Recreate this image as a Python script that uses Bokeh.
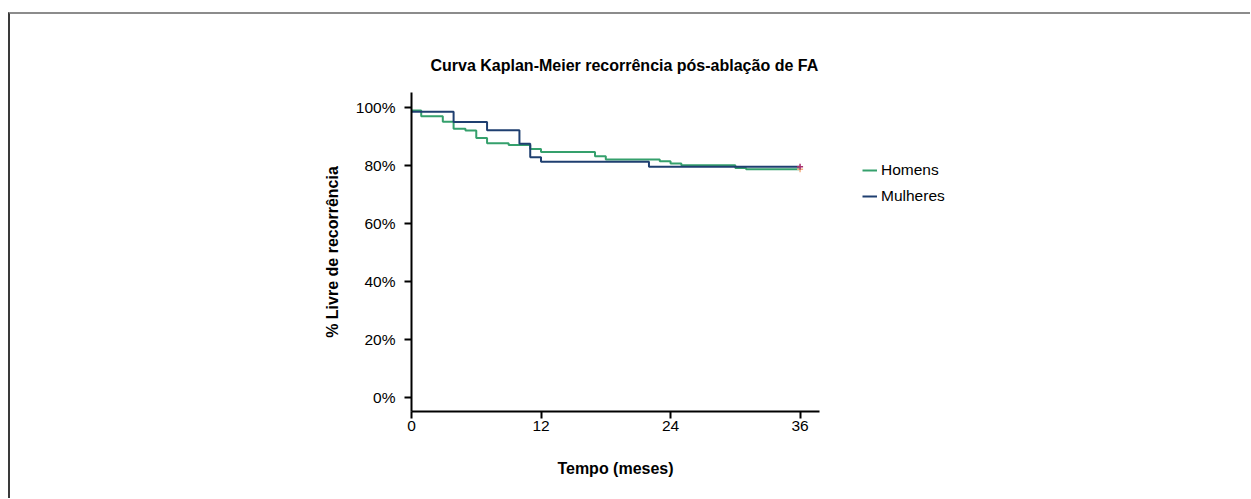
from bokeh.plotting import figure
from bokeh.layouts import row
from bokeh.models import Range1d, Legend, LegendItem, FixedTicker, PrintfTickFormatter
from bokeh.embed import file_html
from bokeh.resources import INLINE

# ---- data ----
title_text = "Curva Kaplan-Meier recorrência pós-ablação de FA"
x_label = "Tempo (meses)"
y_label = "% Livre de recorrência"
x_ticks = [0, 12, 24, 36]
y_ticks = [0, 20, 40, 60, 80, 100]
series_names = ["Homens", "Mulheres"]

homens_t = [0, 0.9, 2.9, 3.9, 5.0, 6.0, 7.0, 9.0, 11.0, 12.0, 17.0, 18.0, 23.0, 24.0, 25.0, 30.0, 31.0, 36.0]
homens_s = [99.0, 97.0, 95.1, 92.7, 92.1, 89.5, 87.7, 87.1, 85.7, 84.7, 83.2, 82.1, 81.5, 80.7, 80.1, 79.2, 78.7, 78.7]

mulheres_t = [0, 3.9, 7.0, 10.0, 11.0, 12.0, 22.0, 36.0]
mulheres_s = [98.6, 95.0, 92.2, 87.5, 82.9, 81.3, 79.6, 79.6]

censor_t = [36, 36]
censor_s = [78.7, 79.6]

# ---- layout / style ----
X_MAX = 37.8
Y_MIN, Y_MAX = -4.8, 105.2
MAIN_W, LEG_W, CANVAS_H = 840, 400, 484
LEFT, TOP, FRAME_W, FRAME_H = 401, 78, 408, 319

GREEN = "#35a06c"
BLUE = "#1f3f70"
FONT = "Liberation Sans"

p = figure(width=MAIN_W, height=CANVAS_H,
           x_range=Range1d(0, X_MAX), y_range=Range1d(Y_MIN, Y_MAX),
           output_backend="svg", toolbar_location=None,
           min_border_left=LEFT, min_border_right=MAIN_W - LEFT - FRAME_W,
           min_border_top=TOP, min_border_bottom=CANVAS_H - TOP - FRAME_H)
p.outline_line_color = None
p.xgrid.visible = False
p.ygrid.visible = False

p.title.text = title_text
p.title.text_font = FONT
p.title.text_font_size = "16px"
p.title.text_font_style = "bold"
p.title.text_color = "black"
p.title.align = "left"
p.title.offset = 19
p.title.standoff = 37

for ax in (p.xaxis[0], p.yaxis[0]):
    ax.axis_line_width = 2
    ax.axis_line_color = "black"
    ax.major_tick_line_width = 2
    ax.major_tick_line_color = "black"
    ax.minor_tick_line_color = None
    ax.major_tick_in = 0
    ax.major_tick_out = 7
    ax.major_label_text_font = FONT
    ax.major_label_text_font_size = "15.5px"
    ax.major_label_text_color = "black"
    ax.axis_label_text_font = FONT
    ax.axis_label_text_font_size = "16px"
    ax.axis_label_text_font_style = "bold"
    ax.axis_label_text_color = "black"

p.xaxis.ticker = FixedTicker(ticks=x_ticks)
p.yaxis.ticker = FixedTicker(ticks=y_ticks)
p.yaxis.formatter = PrintfTickFormatter(format="%d%%")
p.xaxis.axis_label = x_label
p.yaxis.axis_label = y_label
p.xaxis.major_label_standoff = 2
p.yaxis.major_label_standoff = 9
p.xaxis.axis_label_standoff = 26
p.yaxis.axis_label_standoff = 12

p.step(homens_t, homens_s, mode="after", line_width=2, line_color=GREEN)
p.step(mulheres_t, mulheres_s, mode="after", line_width=2, line_color=BLUE)

p.scatter(censor_t[:1], censor_s[:1], marker="cross", size=6, line_width=1.5, line_color="#f3b283")
p.scatter(censor_t[1:], censor_s[1:], marker="cross", size=6, line_width=1.5, line_color="#a8306e")

# ---- legend panel (same series, its own figure beside the plot) ----
q = figure(width=LEG_W, height=CANVAS_H, x_range=Range1d(1000, 1001), y_range=Range1d(1000, 1001),
           x_axis_type=None, y_axis_type=None, output_backend="svg", toolbar_location=None,
           min_border=0)
q.outline_line_color = None
l_h = q.step(homens_t, homens_s, mode="after", line_width=2, line_color=GREEN)
l_m = q.step(mulheres_t, mulheres_s, mode="after", line_width=2, line_color=BLUE)

legend = Legend(items=[LegendItem(label=series_names[0], renderers=[l_h]),
                       LegendItem(label=series_names[1], renderers=[l_m])],
                location=(12, 205))
legend.border_line_color = None
legend.background_fill_alpha = 0
legend.padding = 0
legend.margin = 0
legend.spacing = 6
legend.glyph_width = 15
legend.glyph_height = 20
legend.label_height = 20
legend.label_standoff = 4
legend.label_text_font = FONT
legend.label_text_font_size = "15.5px"
legend.label_text_color = "black"
q.add_layout(legend)

layout = row(p, q)
layout.styles = {"border-top": "2px solid #8c8c8c", "border-left": "2px solid #3a3a3a"}
layout.margin = (12, 0, 0, 8)

open("out.html", "w").write(file_html(layout, INLINE))
